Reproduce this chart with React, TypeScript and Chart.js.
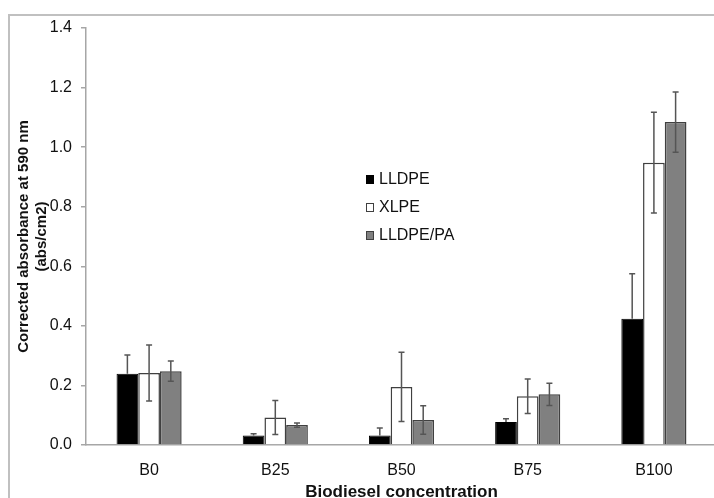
import React, { useEffect, useRef } from "react";
import { Chart, registerables } from "chart.js";

Chart.register(...registerables);

const categories = ["B0", "B25", "B50", "B75", "B100"];
const seriesNames = ["LLDPE", "XLPE", "LLDPE/PA"];
const lldpe = [0.239, 0.032, 0.032, 0.077, 0.424];
const lldpeErr = [0.063, 0.006, 0.025, 0.011, 0.151];
const xlpe = [0.242, 0.092, 0.195, 0.164, 0.948];
const xlpeErr = [0.094, 0.057, 0.116, 0.058, 0.169];
const lldpePa = [0.248, 0.067, 0.084, 0.17, 1.084];
const lldpePaErr = [0.034, 0.007, 0.048, 0.037, 0.101];
const yTicks = [0, 0.2, 0.4, 0.6, 0.8, 1.0, 1.2, 1.4];

const FONT = "'Liberation Sans', Arial, sans-serif";

const errors = [lldpeErr, xlpeErr, lldpePaErr];
const plusOnly = [true, false, false];
const fills = ["#000000", "#ffffff", "#808080"];
const borders = ["#000000", "#404040", "#404040"];

const framePlugin = {
  id: "frame",
  beforeDraw(chart: any) {
    const ctx = chart.ctx;
    ctx.save();
    ctx.fillStyle = "#ffffff";
    ctx.fillRect(0, 0, chart.width, chart.height);
    ctx.strokeStyle = "#c0c0c0";
    ctx.lineWidth = 2;
    ctx.strokeRect(9, 15, 1000, 1000);
    ctx.restore();
  },
};

const errorBarPlugin = {
  id: "errorBars",
  afterDatasetsDraw(chart: any) {
    const ctx = chart.ctx;
    const y = chart.scales.y;
    ctx.save();
    ctx.strokeStyle = "#555555";
    ctx.lineWidth = 1.5;
    chart.data.datasets.forEach((ds: any, di: number) => {
      const meta = chart.getDatasetMeta(di);
      meta.data.forEach((bar: any, i: number) => {
        const v = ds.data[i];
        const e = errors[di][i];
        const top = y.getPixelForValue(v + e);
        const bot = plusOnly[di] ? y.getPixelForValue(v) : y.getPixelForValue(v - e);
        const x = bar.x;
        ctx.beginPath();
        ctx.moveTo(x, top);
        ctx.lineTo(x, bot);
        ctx.moveTo(x - 3, top);
        ctx.lineTo(x + 3, top);
        if (!plusOnly[di]) {
          ctx.moveTo(x - 3, bot);
          ctx.lineTo(x + 3, bot);
        }
        ctx.stroke();
      });
    });
    ctx.restore();
  },
};

const legendPlugin = {
  id: "innerLegend",
  afterDraw(chart: any) {
    const ctx = chart.ctx;
    ctx.save();
    ctx.font = `16px ${FONT}`;
    ctx.textBaseline = "middle";
    ctx.textAlign = "left";
    const x0 = 366;
    const ys = [180, 208, 236];
    seriesNames.forEach((name, i) => {
      const cy = ys[i];
      ctx.fillStyle = fills[i];
      ctx.fillRect(x0, cy - 5, 8, 9);
      ctx.strokeStyle = borders[i];
      ctx.lineWidth = 1;
      ctx.strokeRect(x0 + 0.5, cy - 4.5, 7, 8);
      ctx.fillStyle = "#111111";
      ctx.fillText(name, x0 + 13, cy);
    });
    ctx.restore();
  },
};

export default function App() {
  const ref = useRef<HTMLCanvasElement>(null);
  useEffect(() => {
    document.body.style.overflow = "hidden";
    document.documentElement.style.overflow = "hidden";
    const chart = new Chart(ref.current as HTMLCanvasElement, {
      type: "bar",
      data: {
        labels: categories,
        datasets: [
          { label: seriesNames[0], data: lldpe, backgroundColor: fills[0], borderColor: borders[0], borderWidth: 1 },
          { label: seriesNames[1], data: xlpe, backgroundColor: fills[1], borderColor: borders[1], borderWidth: 1.5 },
          { label: seriesNames[2], data: lldpePa, backgroundColor: fills[2], borderColor: borders[2], borderWidth: 1.5 },
        ],
      },
      options: {
        animation: false,
        responsive: false,
        devicePixelRatio: 1,
        layout: { padding: { left: 0, right: 13, top: 28, bottom: 0 } },
        datasets: { bar: { categoryPercentage: 0.516, barPercentage: 1 } },
        plugins: { legend: { display: false }, tooltip: { enabled: false } },
        scales: {
          x: {
            grid: { display: false },
            border: { display: true, color: "#a6a6a6", width: 1.5 },
            ticks: { font: { family: FONT, size: 16 }, color: "#111111", padding: 8 },
            title: {
              display: true,
              text: "Biodiesel concentration",
              font: { family: FONT, size: 17, weight: "bold", lineHeight: 1 },
              color: "#111111",
              padding: { top: 0, bottom: -3 },
            },
            afterFit: (s: any) => {
              s.height = 53;
            },
          },
          y: {
            min: 0,
            max: 1.4,
            afterBuildTicks: (s: any) => {
              s.ticks = yTicks.map((v) => ({ value: v }));
            },
            grid: { display: true, drawOnChartArea: false, drawTicks: true, tickLength: 5, color: "#a6a6a6", lineWidth: 1.5 },
            border: { display: true, color: "#a6a6a6", width: 1.5 },
            ticks: {
              font: { family: FONT, size: 16 },
              color: "#111111",
              padding: 9,
              callback: (v: any) => Number(v).toFixed(1),
            },
            title: {
              display: true,
              text: ["Corrected absorbance at 590 nm", "(abs/cm2)"],
              font: { family: FONT, size: 15, weight: "bold", lineHeight: 1.2 },
              color: "#111111",
              padding: { top: 15, bottom: 0 },
            },
            afterFit: (s: any) => {
              s.width = 86;
            },
          },
        },
      },
      plugins: [framePlugin, errorBarPlugin, legendPlugin],
    });
    return () => chart.destroy();
  }, []);
  return (
    <canvas
      ref={ref}
      width={730}
      height={498}
      style={{ position: "fixed", left: 0, top: 0, width: 730, height: 498 }}
    />
  );
}
